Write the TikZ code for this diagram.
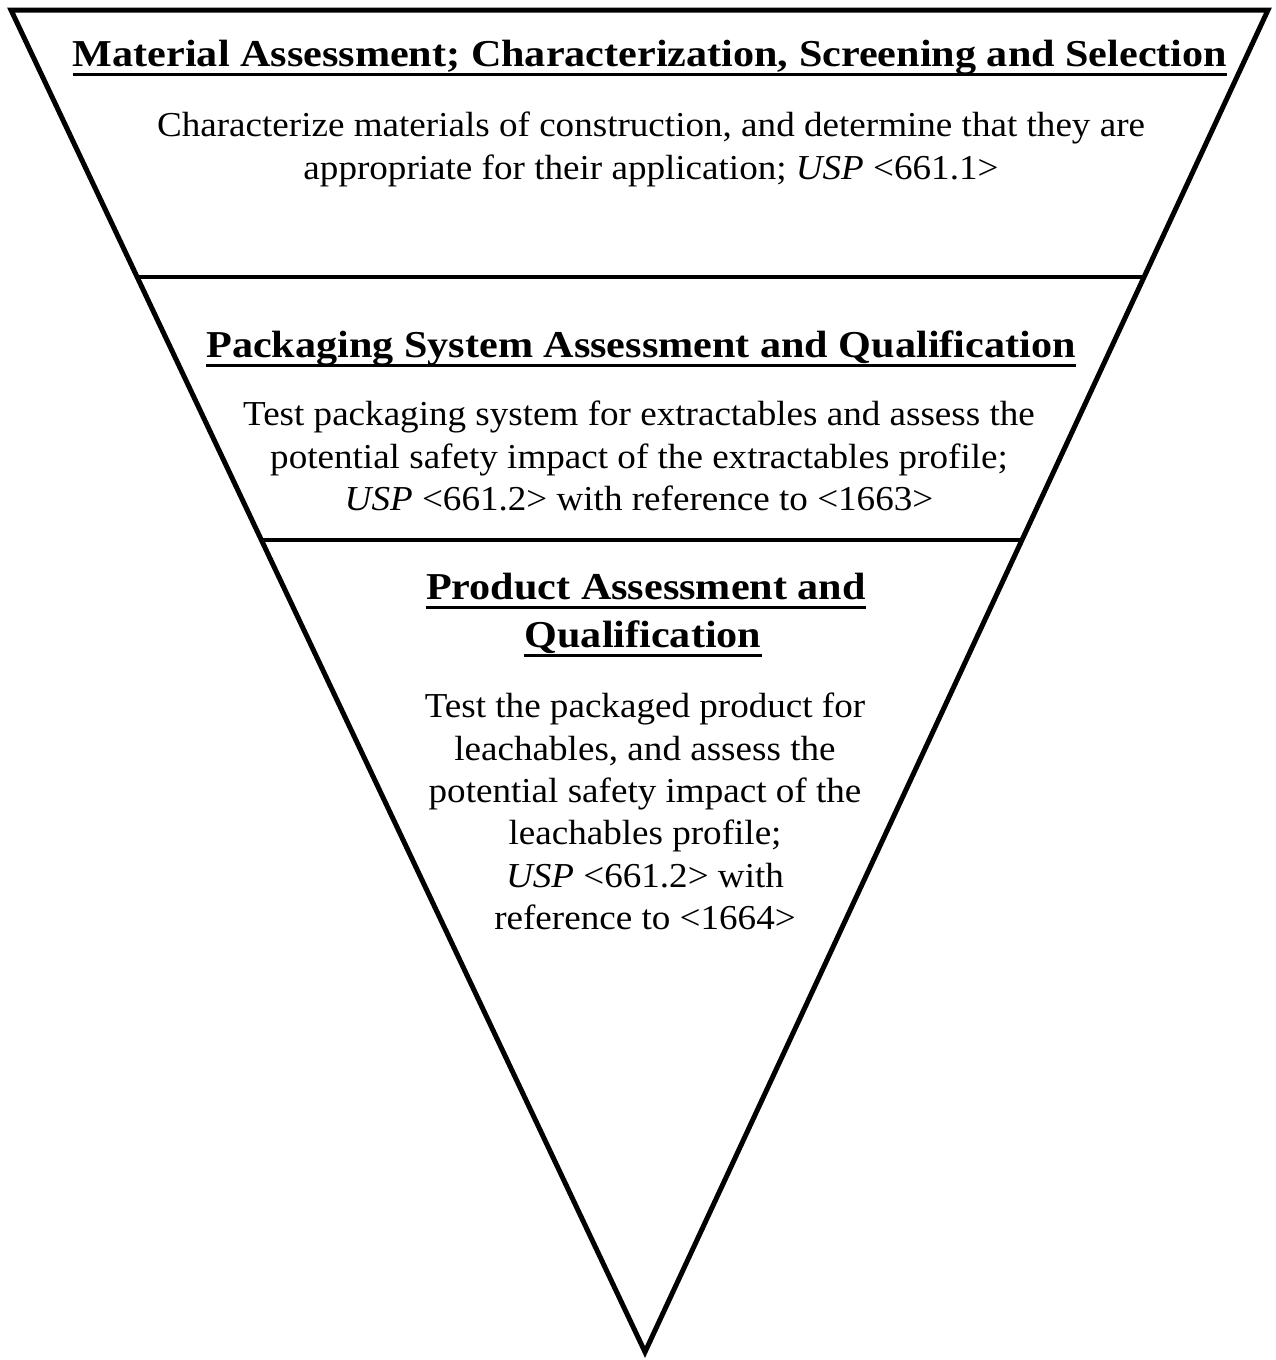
\documentclass[tikz,border=0pt]{standalone}
\usepackage{fontspec}
\setmainfont{Liberation Serif}
\newfontfamily\ttlfont{Liberation Serif}[FakeStretch=1.11]
\newfontfamily\bodyfont{Liberation Serif}[FakeStretch=1.06]
\usetikzlibrary{calc}
\tikzset{
  outer/.style={line width=5pt, line join=miter},
  divider/.style={line width=3.5pt},
  ttl/.style={font=\ttlfont\bfseries\fontsize{38}{44}\selectfont, inner sep=0pt, anchor=base},
  body/.style={font=\bodyfont\fontsize{35}{42.3}\selectfont, inner sep=0pt, anchor=north, align=center},
  uline/.style={line width=3pt}
}
\newcommand{\ulnode}[3]{%
  \node[ttl] (#1) at (#2) {#3};
  \draw[uline] ($(#1.base west)+(0,8)$) -- ($(#1.base east)+(0,8)$);
}
\begin{document}
\begin{tikzpicture}[x=1pt,y=-1pt]
\useasboundingbox (0,0) rectangle (1276,1360);
\coordinate (tl) at (11,10);
\coordinate (tr) at (1268,10);
\coordinate (ap) at (645,1352);
\draw[outer] (tl) -- (tr) -- (ap) -- cycle;
\coordinate (l1) at ($(tl)!{(277-10)/1342}!(ap)$);
\coordinate (r1) at ($(tr)!{(277-10)/1342}!(ap)$);
\coordinate (l2) at ($(tl)!{(540-10)/1342}!(ap)$);
\coordinate (r2) at ($(tr)!{(540-10)/1342}!(ap)$);
\draw[divider] (l1) -- (r1);
\draw[divider] (l2) -- (r2);
\ulnode{t1}{650,66}{Material Assessment; Characterization, Screening and Selection}
\node[body] (b1) at (651,112) {Characterize materials of construction, and determine that they are\\appropriate for their application; \textit{USP} <661.1>};
\ulnode{t2}{641,357}{Packaging System Assessment and Qualification}
\node[body] (b2) at (639,401) {Test packaging system for extractables and assess the\\potential safety impact of the extractables profile;\\\textit{USP} <661.2> with reference to <1663>};
\ulnode{t3a}{646,599}{Product Assessment and}
\ulnode{t3b}{643,647}{Qualification}
\node[body] (b3) at (645,693) {Test the packaged product for\\leachables, and assess the\\potential safety impact of the\\leachables profile;\\\textit{USP} <661.2> with\\reference to <1664>};
\end{tikzpicture}
\end{document}
